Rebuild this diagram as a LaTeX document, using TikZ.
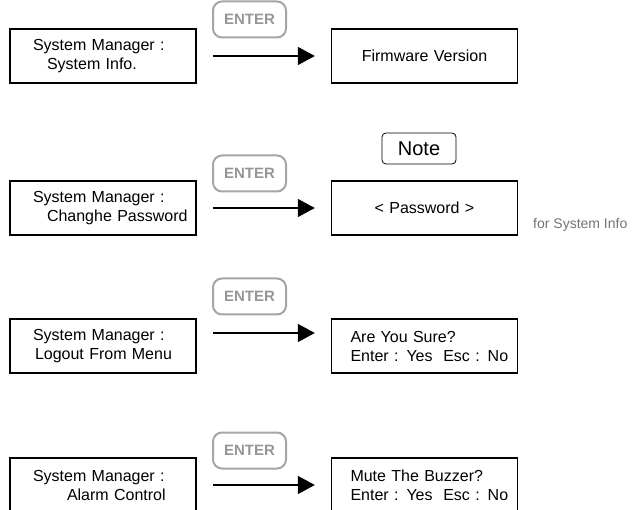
\documentclass[tikz,border=0pt]{standalone}
\usepackage{fontspec}
\setmainfont{Liberation Sans}
\usetikzlibrary{arrows.meta}
\definecolor{entertext}{RGB}{150,150,150}
\definecolor{enterborder}{RGB}{165,165,165}
\definecolor{infogray}{RGB}{115,115,115}
\newcommand{\ind}[1]{\hspace*{#1pt}}
\begin{document}
\begin{tikzpicture}[x=1pt,y=-1pt,
  menubox/.style={draw, line width=1.3pt, minimum height=54pt, inner ysep=0pt,
    inner xsep=0pt, text width=186pt,
    font=\fontsize{16}{19}\selectfont},
  leftbox/.style={menubox, align=left},
  centerbox/.style={menubox, align=center},
  enterkey/.style={draw=enterborder, line width=2pt, rounded corners=9pt,
    minimum width=73pt, minimum height=36pt, inner sep=0pt,
    text=entertext, font=\fontsize{15}{15}\bfseries\selectfont},
  notekey/.style={draw, line width=0.8pt, rounded corners=4pt,
    minimum width=74pt, minimum height=31pt, inner sep=0pt,
    font=\fontsize{20}{20}\selectfont},
  flow/.style={line width=1.4pt, -{Triangle[length=17pt,width=18pt]},
    shorten <=16pt, shorten >=16pt}
]
\useasboundingbox (0,0) rectangle (637,510);
\clip (0,0) rectangle (637,510);

% Row 1
\node[leftbox] (l1) at (103,56) {\ind{23}System Manager :\\\ind{37}System Info.};
\node[centerbox] (r1) at (424.5,56) {Firmware Version};
\node[enterkey] (e1) at (249.5,19.5) {ENTER};
\draw[flow] (l1) -- (r1);

% Row 2
\node[leftbox] (l2) at (103,208) {\ind{23}System Manager :\\\ind{37}Changhe Password};
\node[centerbox] (r2) at (424.5,208) {< Password >};
\node[enterkey] (e2) at (249.5,173.5) {ENTER};
\node[notekey] (n2) at (419,148.5) {Note};
\node[anchor=west, inner sep=0pt, text=infogray, font=\fontsize{14}{14}\selectfont] (f2) at (533,225) {for System Info};
\draw[flow] (l2) -- (r2);

% Row 3
\node[leftbox] (l3) at (103,346) {\ind{23}System Manager :\\\ind{25}Logout From Menu};
\node[leftbox] (r3) at (424.5,346) {\ind{19}Are You Sure?\\\ind{19}Enter : Yes\ \ Esc : No};
\node[enterkey] (e3) at (249.5,296.5) {ENTER};
\draw[flow] ([yshift=13pt]l3.east) -- ([yshift=13pt]r3.west);

% Row 4
\node[leftbox] (l4) at (103,485) {\ind{23}System Manager :\\\ind{57}Alarm Control};
\node[leftbox] (r4) at (424.5,485) {\ind{19}Mute The Buzzer?\\\ind{19}Enter : Yes\ \ Esc : No};
\node[enterkey] (e4) at (249.5,450.5) {ENTER};
\draw[flow] (l4) -- (r4);
\end{tikzpicture}
\end{document}
